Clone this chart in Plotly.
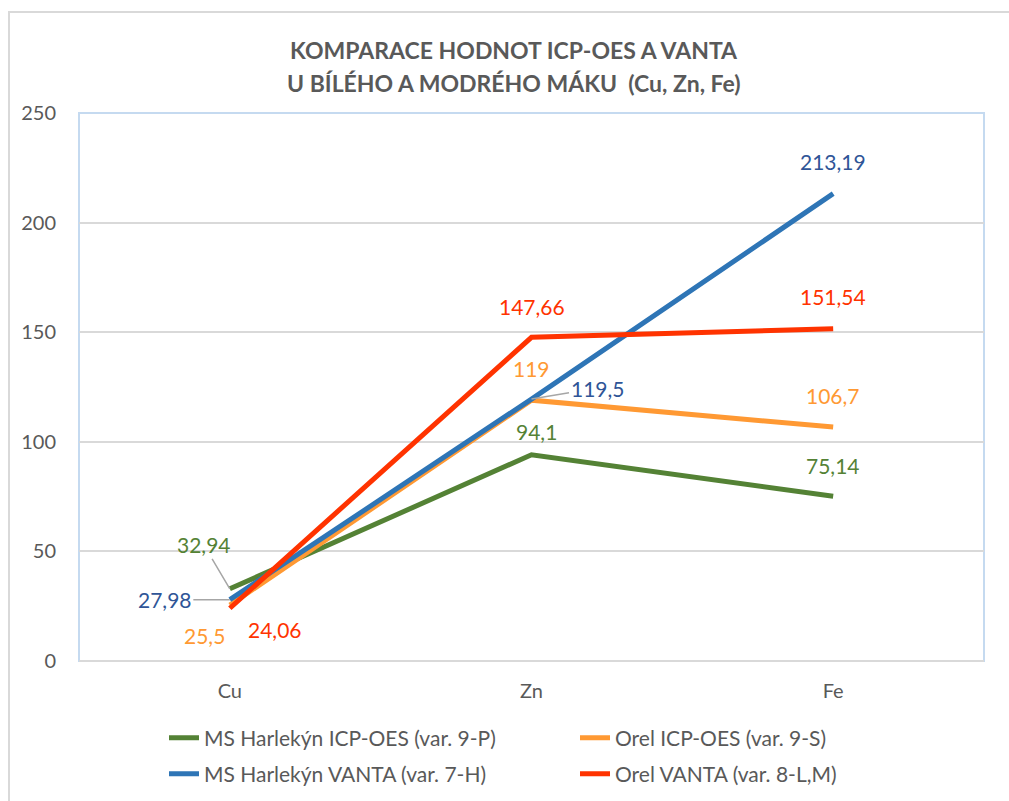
import plotly.graph_objects as go

categories = ["Cu", "Zn", "Fe"]
ms_icp = [32.94, 94.1, 75.14]
orel_icp = [25.5, 119, 106.7]
ms_vanta = [27.98, 119.5, 213.19]
orel_vanta = [24.06, 147.66, 151.54]

names = ["MS Harlekýn ICP-OES (var. 9-P)", "Orel ICP-OES (var. 9-S)",
         "MS Harlekýn VANTA (var. 7-H)", "Orel VANTA (var. 8-L,M)"]
line_colors = ["#548235", "#FF9933", "#2E75B6", "#FF3300"]
label_colors = ["#548235", "#FF9933", "#2F5597", "#FF3300"]
series = [ms_icp, orel_icp, ms_vanta, orel_vanta]
legend_ids = ["legend", "legend", "legend2", "legend2"]

W, H = 1009, 801
L, R, T, B = 79, 984, 113, 661
FONT = "Lato, Open Sans, sans-serif"
GRAY = "#595959"

def px(x):
    return (x - L) / (R - L)

def py(y):
    return (B - y) / (B - T)

def fmt(v):
    return ("%g" % v).replace(".", ",")

fig = go.Figure()
for i in [0, 1, 2, 3]:
    fig.add_trace(go.Scatter(
        x=categories, y=series[i], mode="lines", name=names[i],
        line=dict(color=line_colors[i], width=5),
        legend=legend_ids[i], hoverinfo="skip"))

offsets = {
    (0, 0): ("lead", -26, -44), (2, 0): ("lead", -65, 0),
    (1, 0): ("shift", -25, -30), (3, 0): ("shift", 45, -21),
    (3, 1): ("shift", 0, 31), (1, 1): ("shift", 0, 32),
    (2, 1): ("lead", 66, -11), (0, 1): ("shift", 5, 23),
    (2, 2): ("shift", 0, 32), (3, 2): ("shift", 0, 32),
    (1, 2): ("shift", 0, 32), (0, 2): ("shift", 0, 31),
}
annotations = []
for (si, ci), (kind, dx, dy) in offsets.items():
    v = series[si][ci]
    base = dict(x=categories[ci], y=v, xref="x", yref="y", text=fmt(v),
                font=dict(family=FONT, size=21, color=label_colors[si]))
    if kind == "lead":
        base.update(showarrow=True, arrowhead=0, arrowwidth=1.5,
                    arrowcolor="#A6A6A6", ax=dx, ay=dy, standoff=0)
    else:
        base.update(showarrow=False, xshift=dx, yshift=dy)
    annotations.append(base)

annotations.append(dict(text="<b>KOMPARACE HODNOT ICP-OES A VANTA</b>", x=px(514), y=py(50),
                        xref="paper", yref="paper", xanchor="center", yanchor="middle",
                        showarrow=False, font=dict(family=FONT, size=23, color=GRAY)))
annotations.append(dict(text="<b>U BÍLÉHO A MODRÉHO MÁKU \u00a0(Cu, Zn, Fe)</b>", x=px(514), y=py(83),
                        xref="paper", yref="paper", xanchor="center", yanchor="middle",
                        showarrow=False, font=dict(family=FONT, size=23, color=GRAY)))

shapes = [
    dict(type="rect", xref="paper", yref="paper", x0=px(9), x1=px(1030), y0=py(12), y1=py(830),
         line=dict(color="#D9D9D9", width=2), layer="below"),
    dict(type="rect", xref="paper", yref="paper", x0=0, x1=1, y0=0, y1=1,
         line=dict(color="#C5DAF0", width=2), layer="between"),
    dict(type="line", xref="paper", yref="paper", x0=0, x1=1, y0=0, y1=0,
         line=dict(color="#D9D9D9", width=2), layer="between"),
]

legend_common = dict(orientation="h", xanchor="left", yanchor="middle",
                     entrywidth=366, entrywidthmode="pixels",
                     font=dict(family=FONT, size=21, color=GRAY),
                     itemwidth=30, traceorder="normal", bgcolor="rgba(0,0,0,0)")

fig.update_layout(
    width=W, height=H, autosize=False,
    margin=dict(l=L, r=W - R, t=T, b=H - B, pad=0, autoexpand=False),
    paper_bgcolor="white", plot_bgcolor="white",
    font=dict(family=FONT, color=GRAY),
    showlegend=True,
    legend=dict(x=px(164), y=py(738), **legend_common),
    legend2=dict(x=px(164), y=py(774), **legend_common),
    xaxis=dict(type="category", range=[-0.5, 2.5], showgrid=False, zeroline=False,
               showline=False, ticks="", tickfont=dict(family=FONT, size=20, color=GRAY),
               ticklabelstandoff=16, fixedrange=True),
    yaxis=dict(range=[0, 250], tickvals=[0, 50, 100, 150, 200, 250], showgrid=True,
               gridcolor="#D9D9D9", gridwidth=2, zeroline=False, showline=False, ticks="",
               tickfont=dict(family=FONT, size=20, color=GRAY), ticklabelstandoff=22,
               fixedrange=True),
    annotations=annotations, shapes=shapes,
)

fig.write_html("out.html", config={"displayModeBar": False},
               post_script="document.body.style.margin='0';")
